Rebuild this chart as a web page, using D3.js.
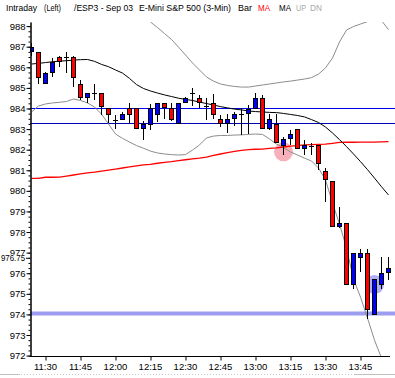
<!DOCTYPE html>
<html>
<head>
<meta charset="utf-8">
<script src="https://cdn.jsdelivr.net/npm/d3@7"></script>
<style>
    body { margin: 0; background: #fff; }
    svg { display: block; font-family: "Liberation Sans", Arial, sans-serif; }
</style>
</head>
<body>
<div id="chart"></div>
<script>
var width = 395;
var height = 378;

var margin = {
    top: 22,
    right: 0,
    bottom: 22,
    left: 30
};

// 3-minute bars, first one at 11:24
var barStart = [11, 24];
var barMinutes = 3;

var opens  = [986.78, 986.72, 985.25, 985.75, 986.50, 986.48, 986.50, 985.20, 984.55, 984.73,
              984.75, 984.00, 983.45, 983.50, 984.00, 984.00, 983.03, 983.23, 983.75, 984.25,
              984.00, 983.28, 984.33, 984.73, 984.50, 984.13, 984.25, 983.47, 983.30, 983.52,
              983.71, 983.76, 984.03, 984.50, 983.06, 983.23, 982.23, 982.55, 982.99, 982.06,
              982.20, 982.22, 980.97, 980.50, 978.30, 978.45, 975.50, 976.77, 976.96, 974.02,
              975.50, 976.07];
var highs  = [987.20, 986.75, 985.75, 986.45, 986.55, 986.75, 986.55, 985.40, 984.75, 985.20,
              984.75, 984.00, 983.68, 983.85, 984.25, 984.00, 983.40, 984.20, 984.25, 984.25,
              984.25, 984.25, 984.55, 985.00, 984.65, 984.49, 984.70, 983.68, 983.71, 983.84,
              984.00, 984.15, 984.75, 984.65, 983.71, 983.71, 982.60, 982.95, 983.00, 982.47,
              982.30, 982.22, 981.10, 980.50, 979.23, 978.45, 977.00, 977.20, 977.20, 975.70,
              976.77, 976.80];
var lows   = [986.55, 985.20, 985.20, 985.55, 986.00, 985.70, 985.05, 984.40, 984.25, 984.40,
              983.70, 983.30, 983.00, 983.45, 983.30, 983.00, 982.47, 982.95, 983.35, 983.50,
              983.40, 983.25, 984.30, 984.10, 984.00, 983.44, 983.50, 983.11, 982.79, 983.16,
              982.71, 982.75, 984.00, 983.00, 982.95, 982.31, 981.75, 982.22, 982.05, 981.74,
              981.74, 981.00, 979.45, 978.23, 978.20, 975.45, 975.25, 976.07, 973.80, 973.95,
              975.25, 975.67];
var closes = [987.00, 985.55, 985.70, 986.25, 986.30, 986.48, 985.55, 984.55, 984.75, 984.73,
              984.10, 983.75, 983.45, 983.72, 983.75, 983.05, 983.23, 984.00, 984.25, 984.07,
              983.50, 984.25, 984.50, 984.73, 984.30, 984.13, 983.75, 983.31, 983.47, 983.71,
              983.71, 983.97, 984.50, 983.03, 983.47, 982.38, 982.50, 982.74, 982.08, 982.22,
              982.20, 981.33, 980.56, 978.30, 978.45, 975.50, 976.96, 976.96, 974.25, 975.70,
              976.00, 976.27];

// black moving average
var maBlack = [986.16, 986.19, 986.23, 986.27, 986.30, 986.32, 986.35, 986.37, 986.38, 986.29,
               986.14, 986.03, 985.87, 985.72, 985.46, 985.16, 984.97, 984.85, 984.75, 984.66,
               984.58, 984.50, 984.44, 984.39, 984.31, 984.24, 984.17, 984.09, 984.03, 983.97,
               983.93, 983.88, 983.85, 983.83, 983.81, 983.80, 983.76, 983.71, 983.66, 983.59,
               983.46, 983.32, 983.10, 982.81, 982.49, 982.15, 981.79, 981.42, 981.03, 980.62,
               980.20, 979.80];
// red moving average
var maRed = [980.61, 980.61, 980.66, 980.66, 980.67, 980.72, 980.77, 980.82, 980.87, 980.91,
             980.96, 981.01, 981.06, 981.11, 981.16, 981.21, 981.26, 981.29, 981.34, 981.38,
             981.42, 981.47, 981.51, 981.55, 981.59, 981.64, 981.72, 981.79, 981.86, 981.92,
             981.97, 982.00, 982.02, 982.03, 982.06, 982.09, 982.13, 982.17, 982.20, 982.23,
             982.25, 982.26, 982.27, 982.31, 982.35, 982.36, 982.36, 982.37, 982.37, 982.37,
             982.38, 982.39];
// grey bands (upper is off the chart on the left)
var bandUpper = [null, null, null, null, null, null, null, null, null, null,
                 null, null, null, null, null, 988.88, 988.59, 988.20, 987.93, 987.64,
                 987.35, 986.98, 986.60, 986.21, 985.87, 985.53, 985.33, 985.19, 985.12, 985.07,
                 985.04, 985.04, 985.09, 985.14, 985.19, 985.24, 985.29, 985.33, 985.38, 985.43,
                 985.50, 985.67, 985.97, 986.45, 987.23, 987.81, 987.98, 988.10, 988.22, 988.39,
                 988.27, 987.83];
var bandLower = [983.83, 984.12, 984.22, 984.27, 984.30, 984.34, 984.46, 984.39, 984.27, 984.07,
                 983.73, 983.25, 982.76, 982.55, 982.37, 982.20, 982.07, 981.93, 981.84, 981.79,
                 981.76, 981.74, 981.76, 981.98, 982.23, 982.57, 982.66, 982.69, 982.69, 982.71,
                 982.72, 982.74, 982.76, 982.74, 982.52, 982.27, 982.10, 981.89, 981.74, 981.59,
                 981.45, 981.11, 980.53, 979.41, 978.39, 977.22, 975.72, 974.84, 973.82, 972.75,
                 971.88, 971.20];

// horizontal price levels
var levelPrices = [984.01, 983.28, 974.09];
var levelColors = ["#0000ee", "#0000b4", "#9c9cf0"];
var levelWidths = [1, 1, 4];

// highlighted bars
var markerBars = [36, 49];
var markerPrices = [981.90, 975.45];
var markerColors = ["rgba(240,110,130,0.55)", "rgba(110,110,235,0.55)"];

var yTickValues = d3.range(972, 989);
var lastPrice = 976.75;

var titleParts = ["Intraday", "(Left)", "/ESP3 - Sep 03", "E-Mini S&P 500 (3-Min)", "Bar", "MA", "MA", "UP", "DN"];

var times = opens.map((d, i) => new Date(2003, 8, 3, barStart[0], barStart[1] + i * barMinutes));

var bars = opens.map((d, i) => ({
    t: times[i], o: opens[i], h: highs[i], l: lows[i], c: closes[i]
}));

var x = d3.scaleTime()
    .domain([times[0], times[times.length - 1]])
    .range([31, 388]);

var y = d3.scaleLinear()
    .domain([972, 988.2])
    .range([355.6, margin.top]);

var svg = d3.select("#chart").append("svg")
    .attr("width", width)
    .attr("height", height);

svg.append("defs").append("clipPath")
    .attr("id", "plot-clip")
    .append("rect")
    .attr("x", margin.left)
    .attr("y", margin.top)
    .attr("width", width - margin.left)
    .attr("height", 356 - margin.top);

// title, squeezed to the widths of the original bitmap font
var titleX = [6, 44, 74, 139, 238, 258, 279, 296, 310];
var titleW = [31, 17, 59, 92, 14, 12, 12, 10, 12];
var titleFill = ["#000", "#000", "#000", "#000", "#000", "#f00", "#000", "#a8a8a8", "#a8a8a8"];
svg.append("g")
    .selectAll("text")
    .data(titleParts)
    .enter()
    .append("text")
    .attr("x", (d, i) => titleX[i])
    .attr("y", 11)
    .attr("font-size", "9.5px")
    .attr("textLength", (d, i) => titleW[i])
    .attr("lengthAdjust", "spacingAndGlyphs")
    .attr("fill", (d, i) => titleFill[i])
    .text(d => d);

var plot = svg.append("g")
    .attr("clip-path", "url(#plot-clip)");

// markers
plot.append("g")
    .selectAll("circle")
    .data(markerBars)
    .enter()
    .append("circle")
    .attr("cx", (d, i) => x(times[d]) + 0.5)
    .attr("cy", (d, i) => y(markerPrices[i]))
    .attr("r", 9.5)
    .attr("fill", (d, i) => markerColors[i]);

// price levels
plot.append("g")
    .selectAll("line")
    .data(levelPrices)
    .enter()
    .append("line")
    .attr("x1", margin.left)
    .attr("x2", width)
    .attr("y1", d => Math.round(y(d)) + 0.5)
    .attr("y2", d => Math.round(y(d)) + 0.5)
    .attr("stroke", (d, i) => levelColors[i])
    .attr("stroke-width", (d, i) => levelWidths[i]);

function seriesLine(values, color, w) {
    var line = d3.line()
        .defined(d => d != null)
        .x((d, i) => x(times[i]) + 0.5)
        .y(d => y(d));
    plot.append("path")
        .datum(values)
        .attr("fill", "none")
        .attr("stroke", color)
        .attr("stroke-width", w)
        .attr("d", line);
}

seriesLine(bandUpper, "#8c8c8c", 1);
seriesLine(bandLower, "#8c8c8c", 1);
seriesLine(maRed, "#ff0000", 1.3);
seriesLine(maBlack, "#000000", 1);

// candles
var candle = plot.append("g")
    .selectAll("g")
    .data(bars)
    .enter()
    .append("g");

candle.append("line")
    .attr("x1", d => Math.round(x(d.t)) + 0.5)
    .attr("x2", d => Math.round(x(d.t)) + 0.5)
    .attr("y1", d => Math.round(y(d.h)))
    .attr("y2", d => Math.round(y(d.l)))
    .attr("stroke", "#000")
    .attr("stroke-width", 1);

candle.filter(d => d.o !== d.c)
    .append("rect")
    .attr("x", d => Math.round(x(d.t)) - 1.5)
    .attr("y", d => Math.round(y(Math.max(d.o, d.c))) + 0.5)
    .attr("width", 4)
    .attr("height", d => Math.max(1, Math.round(y(Math.min(d.o, d.c))) - Math.round(y(Math.max(d.o, d.c)))))
    .attr("fill", d => d.c > d.o ? "#0000ff" : "#ff0000")
    .attr("stroke", "#000")
    .attr("stroke-width", 1);

candle.filter(d => d.o === d.c)
    .append("line")
    .attr("x1", d => Math.round(x(d.t)) - 2)
    .attr("x2", d => Math.round(x(d.t)) + 3)
    .attr("y1", d => Math.round(y(d.o)) + 0.5)
    .attr("y2", d => Math.round(y(d.o)) + 0.5)
    .attr("stroke", "#000");

// y axis
var gyMinor = svg.append("g")
    .attr("transform", `translate(${margin.left + 0.5},0)`)
    .call(d3.axisLeft(y)
        .tickValues(d3.range(972, 988.01, 0.25))
        .tickSize(2)
        .tickSizeOuter(0)
        .tickFormat(""));

var gy = svg.append("g")
    .attr("transform", `translate(${margin.left + 0.5},0)`)
    .call(d3.axisLeft(y)
        .tickValues(yTickValues)
        .tickSize(4)
        .tickSizeOuter(0)
        .tickPadding(1)
        .tickFormat(d3.format("d")));

gy.selectAll("text")
    .attr("font-size", "9.5px")
    .attr("fill", "#000")
    .attr("font-family", "Liberation Sans, Arial, sans-serif");

// last price label, drawn over the 977 label
var lp = svg.append("g")
    .attr("transform", `translate(0,${y(lastPrice)})`);
lp.append("rect")
    .attr("x", 0)
    .attr("y", -3)
    .attr("width", 26)
    .attr("height", 8)
    .attr("fill", "#fff");
lp.append("line")
    .attr("x1", 26)
    .attr("x2", margin.left)
    .attr("y1", 0.5)
    .attr("y2", 0.5)
    .attr("stroke", "#000");
lp.append("text")
    .attr("x", 1)
    .attr("dy", "0.32em")
    .attr("font-size", "9.5px")
    .attr("textLength", 24)
    .attr("lengthAdjust", "spacingAndGlyphs")
    .text(d3.format(".2f")(lastPrice));

// x axis
var gx = svg.append("g")
    .attr("transform", "translate(0,356.5)")
    .call(d3.axisBottom(x)
        .ticks(d3.timeMinute.every(15))
        .tickSize(4)
        .tickSizeOuter(0)
        .tickPadding(3)
        .tickFormat(d3.timeFormat("%H:%M")))
    .call(g => g.select(".domain").remove());

gx.selectAll(".tick line")
    .attr("transform", "translate(0.5,0)");

gx.selectAll("text")
    .attr("font-size", "9.5px")
    .attr("fill", "#000")
    .attr("font-family", "Liberation Sans, Arial, sans-serif");

svg.append("line")
    .attr("x1", margin.left)
    .attr("x2", 390)
    .attr("y1", 356.5)
    .attr("y2", 356.5)
    .attr("stroke", "#000");

// bottom scroll strip
svg.append("line")
    .attr("x1", 0)
    .attr("x2", width)
    .attr("y1", 374.5)
    .attr("y2", 374.5)
    .attr("stroke", "#c8c8c8")
    .attr("stroke-dasharray", "1,2");
svg.append("line")
    .attr("x1", 0)
    .attr("x2", 20)
    .attr("y1", 374.5)
    .attr("y2", 374.5)
    .attr("stroke", "#c0c0c0");
svg.append("line")
    .attr("x1", 355)
    .attr("x2", width)
    .attr("y1", 374.5)
    .attr("y2", 374.5)
    .attr("stroke", "#c0c0c0");
</script>
</body>
</html>
